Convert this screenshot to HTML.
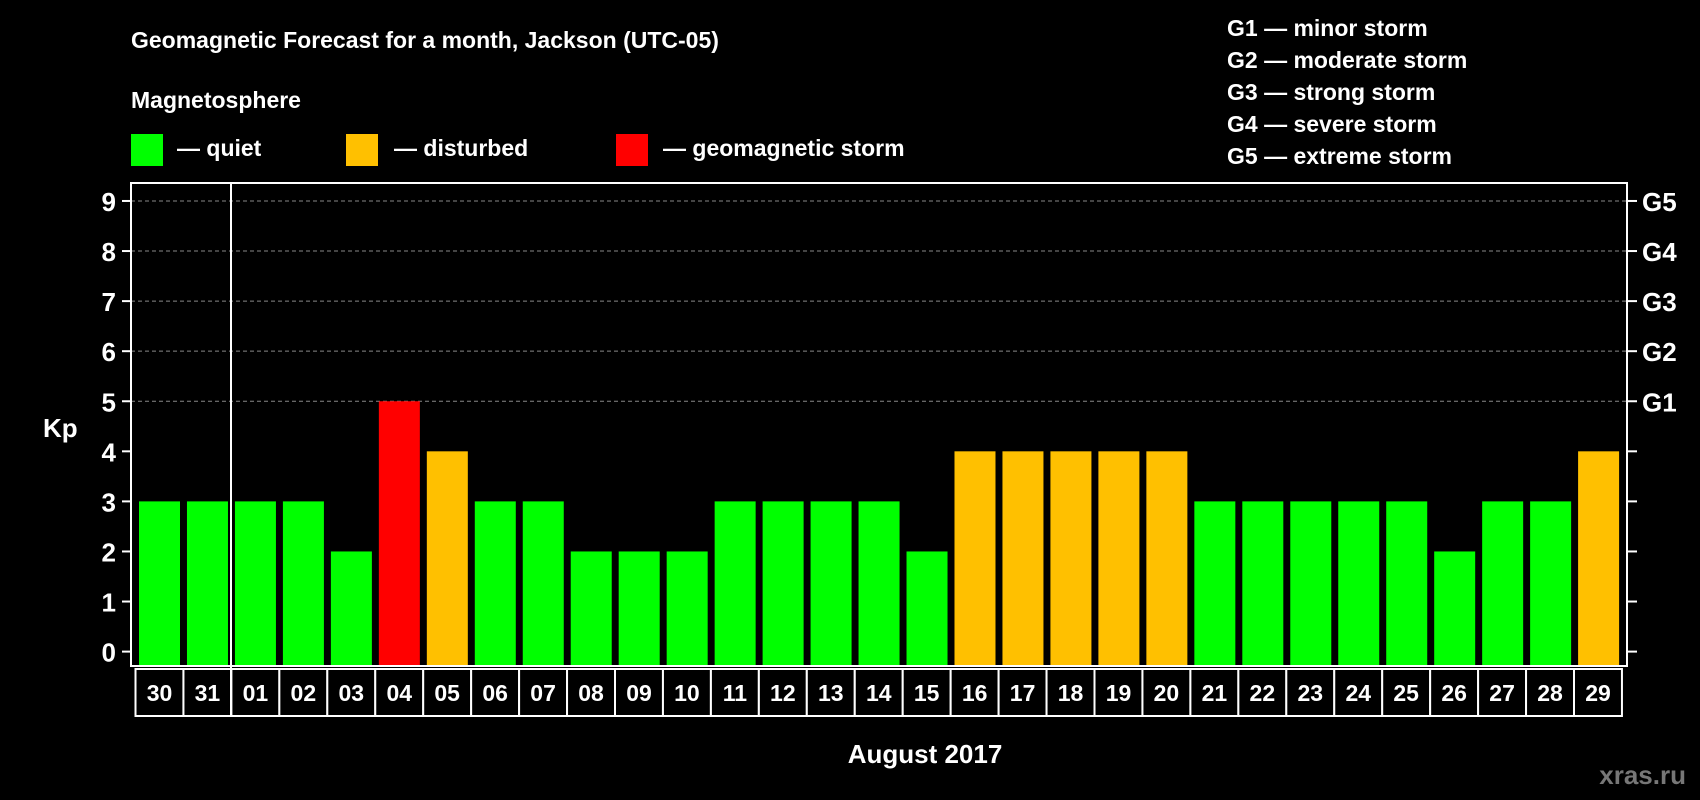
<!DOCTYPE html>
<html><head><meta charset="utf-8"><style>
html,body{margin:0;padding:0;background:#000;}
svg{display:block;font-family:"Liberation Sans",Arial,sans-serif;font-weight:bold;}
</style></head><body>
<svg id="chart" width="1700" height="800" viewBox="0 0 1700 800">
<rect width="1700" height="800" fill="#000"/>
<text x="131" y="48" fill="#fff" font-size="23">Geomagnetic Forecast for a month, Jackson (UTC-05)</text>
<text x="131" y="108" fill="#fff" font-size="23">Magnetosphere</text>
<g><rect x="131" y="134" width="32" height="32" fill="#00ff00"/><text x="177" y="156" fill="#fff" font-size="23">— quiet</text></g>
<g><rect x="346" y="134" width="32" height="32" fill="#ffc000"/><text x="394" y="156" fill="#fff" font-size="23">— disturbed</text></g>
<g><rect x="616" y="134" width="32" height="32" fill="#ff0000"/><text x="663" y="156" fill="#fff" font-size="23">— geomagnetic storm</text></g>
<g fill="#fff" font-size="23">
<text x="1227" y="36">G1 — minor storm</text>
<text x="1227" y="68">G2 — moderate storm</text>
<text x="1227" y="100">G3 — strong storm</text>
<text x="1227" y="132">G4 — severe storm</text>
<text x="1227" y="164">G5 — extreme storm</text>
</g>
<text x="43" y="437" fill="#fff" font-size="26">Kp</text>
<text x="925" y="763" fill="#fff" font-size="26" text-anchor="middle">August 2017</text>
<text x="1686" y="784" fill="#777" font-size="26" text-anchor="end">xras.ru</text>
<g id="grid"></g><g id="bars"></g><g id="axes"></g>
</svg>
<script>
const days = ["30","31","01","02","03","04","05","06","07","08","09","10","11","12","13","14","15","16","17","18","19","20","21","22","23","24","25","26","27","28","29"];
const kp = [3,3,3,3,2,5,4,3,3,2,2,2,3,3,3,3,2,4,4,4,4,4,3,3,3,3,3,2,3,3,4];
const yTicks = [0,1,2,3,4,5,6,7,8,9];
const gLabels = ["G1","G2","G3","G4","G5"];
const gLevels = [5,6,7,8,9];
const NS="http://www.w3.org/2000/svg";
const L=131,R=1627,T=183,B=666;
function y(v){return 651.6-v*50.07;}
function xb(i){return 139+i*47.97;}
function mk(tag,attrs,parent){const e=document.createElementNS(NS,tag);for(const k in attrs)e.setAttribute(k,attrs[k]);parent.appendChild(e);return e;}
const grid=document.getElementById('grid'),bars=document.getElementById('bars'),axes=document.getElementById('axes');
gLevels.forEach(v=>{
 const l=mk('line',{x1:L,x2:R,y1:y(v),y2:y(v),stroke:'#888','stroke-width':1,'stroke-dasharray':'4,3'},grid);
 
 
});
kp.forEach((v,i)=>{
 const c=v>=5?'#ff0000':(v>=4?'#ffc000':'#00ff00');
 const r=mk('rect',{x:xb(i),y:y(v),width:41,height:B-y(v),fill:c},bars);
 
 
 const bx=135.5+i*47.95;
 const box=mk('rect',{x:bx,y:669,width:47.95,height:47,fill:'#000',stroke:'#fff','stroke-width':2},axes);
 
 
 const t=mk('text',{x:bx+24,y:701,fill:'#fff','font-size':23,'text-anchor':'middle'},axes);
 t.textContent=days[i];
 
 
});
const frame=mk('rect',{x:L,y:T,width:R-L,height:B-T,fill:'none',stroke:'#fff','stroke-width':2},axes);


const sep=mk('line',{x1:231,x2:231,y1:T,y2:716,stroke:'#fff','stroke-width':2},axes);


yTicks.forEach(v=>{
 mk('line',{x1:L-9,x2:L,y1:y(v),y2:y(v),stroke:'#fff','stroke-width':2},axes);
 mk('line',{x1:R,x2:R+10,y1:y(v),y2:y(v),stroke:'#fff','stroke-width':2},axes);
 const t=mk('text',{x:L-15,y:y(v)+10,fill:'#fff','font-size':26,'text-anchor':'end'},axes);
 t.textContent=v;
 
 
});
gLevels.forEach((v,i)=>{
 const t=mk('text',{x:1642,y:y(v)+10,fill:'#fff','font-size':26},axes);
 t.textContent=gLabels[i];
 
 
});
</script>
</body></html>
